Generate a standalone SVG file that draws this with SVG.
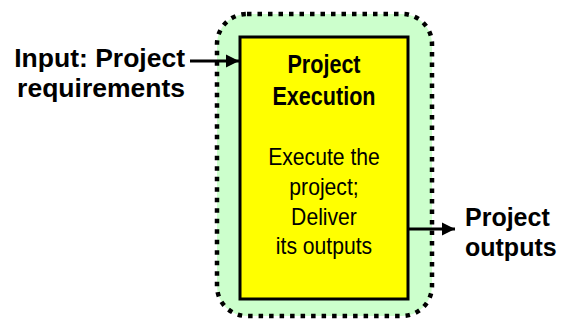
<svg xmlns="http://www.w3.org/2000/svg" width="563" height="323" viewBox="0 0 563 323">
  <style>
    .lbl { font-family: "Liberation Sans", Arial, sans-serif; font-weight: bold; fill: #000; }
    .title { font-family: "Liberation Sans", Arial, sans-serif; font-weight: bold; font-size: 26px; fill: #000; text-anchor: middle; }
    .body { font-family: "Liberation Sans", Arial, sans-serif; font-size: 23px; fill: #000; text-anchor: middle; }
    .wire { stroke: #000; stroke-width: 3; fill: none; }
  </style>
  <defs>
    <marker id="arrow" viewBox="0 0 10 10" refX="10" refY="5" markerWidth="4.5" markerHeight="4.5" markerUnits="strokeWidth" orient="auto">
      <path d="M0,0 L10,5 L0,10 z" fill="#000"/>
    </marker>
  </defs>

  <!-- dotted boundary around the process -->
  <g id="boundary">
    <rect x="217" y="14" width="215" height="302" rx="30" ry="30" fill="#ccffcc" stroke="#000" stroke-width="4.5" stroke-dasharray="4.5 6"/>
  </g>

  <!-- process box -->
  <g id="project-execution">
    <rect x="240" y="37" width="168" height="262" fill="#ffff00" stroke="#000" stroke-width="3"/>
    <g transform="translate(324,0) scale(0.83,1)">
      <text class="title" x="0" y="73">Project</text>
      <text class="title" x="0" y="105">Execution</text>
    </g>
    <g transform="translate(324,0) scale(0.92,1)">
      <text class="body" x="0" y="165">Execute the</text>
      <text class="body" x="0" y="195">project;</text>
      <text class="body" x="0" y="225">Deliver</text>
      <text class="body" x="0" y="254">its outputs</text>
    </g>
  </g>

  <!-- input label -->
  <g id="input">
    <text class="lbl" font-size="26.5" x="185" y="67" text-anchor="end">Input: Project</text>
    <text class="lbl" font-size="26.5" x="185" y="97" text-anchor="end">requirements</text>
  </g>

  <!-- output label -->
  <g id="output">
    <text class="lbl" font-size="25" x="465" y="226">Project</text>
    <text class="lbl" font-size="25" x="465" y="256">outputs</text>
  </g>

  <!-- connectors -->
  <g id="connectors">
    <line class="wire" x1="190" y1="61" x2="239" y2="61" marker-end="url(#arrow)"/>
    <line class="wire" x1="409" y1="229" x2="455" y2="229" marker-end="url(#arrow)"/>
  </g>
</svg>
